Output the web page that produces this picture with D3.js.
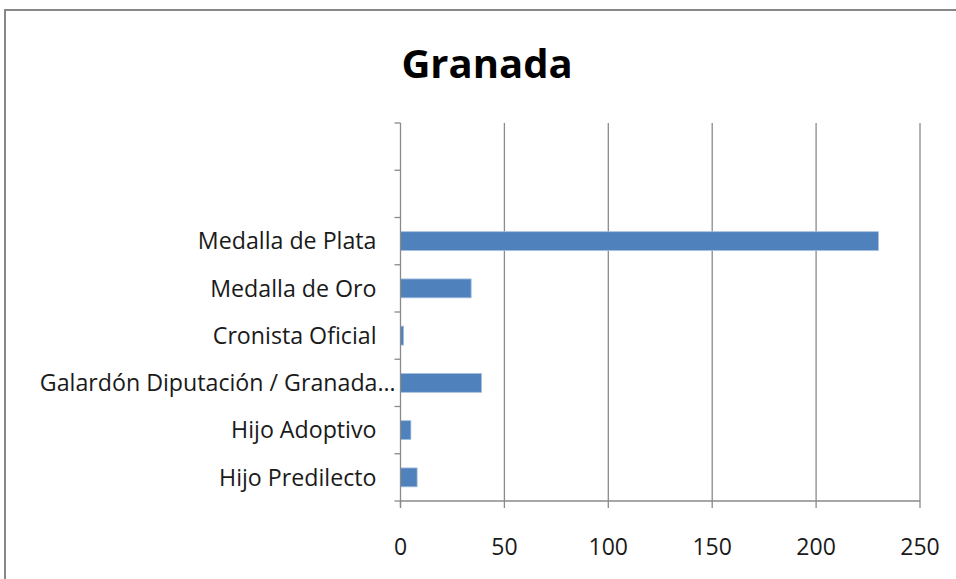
<!DOCTYPE html>
<html>
<head>
<meta charset="utf-8">
<script src="https://cdn.jsdelivr.net/npm/d3@7"></script>
<style>
  html, body { margin: 0; padding: 0; background: #fff; }
  svg { display: block; }
</style>
</head>
<body>
<svg id="chart" width="956" height="579"></svg>
<script>
// ---- data (top to bottom) ----
const title = "Granada";
const categories = ["", "", "Medalla de Plata", "Medalla de Oro", "Cronista Oficial",
  "Galardón Diputación / Granada…", "Hijo Adoptivo", "Hijo Predilecto"];
const values = [null, null, 230, 34, 1.5, 39, 5, 8];
const xTicks = [0, 50, 100, 150, 200, 250];

const svg = d3.select("#chart");
const W = 956, H = 579;
const m = { left: 400.5, right: 920, top: 123, bottom: 501 };

// frame
svg.append("path")
  .attr("d", `M5,${H + 5} L5,10 L${W + 5},10`)
  .attr("fill", "none").attr("stroke", "#878787").attr("stroke-width", 2);

// title
svg.append("text")
  .attr("x", 487).attr("y", 78)
  .attr("text-anchor", "middle")
  .attr("font-family", "'Open Sans', sans-serif")
  .attr("font-weight", "bold").attr("font-size", 40)
  .attr("fill", "#000")
  .text(title);

const x = d3.scaleLinear().domain([0, 250]).range([m.left, m.right]);
const y = d3.scaleBand().domain(d3.range(categories.length)).range([m.top, m.bottom])
  .paddingInner(0.6).paddingOuter(0.3);
const yEdges = d3.scaleLinear().domain([0, categories.length]).range([m.top, m.bottom]);

// vertical gridlines
svg.append("g").selectAll("line").data(xTicks.filter(d => d > 0)).join("line")
  .attr("x1", d => x(d)).attr("x2", d => x(d))
  .attr("y1", m.top).attr("y2", m.bottom)
  .attr("stroke", "#8a8a8a").attr("stroke-width", 1.3);

// bars
svg.append("g").selectAll("rect")
  .data(values.map((v, i) => ({ v, i })).filter(d => d.v != null)).join("rect")
  .attr("x", x(0)).attr("y", d => y(d.i))
  .attr("width", d => x(d.v) - x(0))
  .attr("height", y.bandwidth())
  .attr("fill", "#4f81bd").attr("stroke", "#a7c0e0").attr("stroke-width", 0.8);

// y axis line and ticks
const ya = svg.append("g");
ya.append("line").attr("x1", x(0)).attr("x2", x(0)).attr("y1", m.top).attr("y2", m.bottom + 6)
  .attr("stroke", "#8a8a8a").attr("stroke-width", 1.3);
ya.selectAll("line.t").data(d3.range(categories.length + 1)).join("line").attr("class", "t")
  .attr("x1", x(0) - 6).attr("x2", x(0))
  .attr("y1", d => yEdges(d)).attr("y2", d => yEdges(d))
  .attr("stroke", "#8a8a8a").attr("stroke-width", 1.3);
ya.selectAll("text").data(categories.map((c, i) => ({ c, i })).filter(d => d.c)).join("text")
  .attr("x", d => d.c.endsWith("…") ? x(0) - 5 : x(0) - 24)
  .attr("y", d => y(d.i) + y.bandwidth() / 2)
  .attr("dy", "0.36em")
  .attr("text-anchor", "end")
  .attr("font-family", "'Open Sans', sans-serif").attr("font-size", 23.2)
  .attr("fill", "#1a1a1a")
  .text(d => d.c);

// x axis
const xa = svg.append("g");
xa.append("line").attr("x1", x(0)).attr("x2", x(250)).attr("y1", m.bottom).attr("y2", m.bottom)
  .attr("stroke", "#8a8a8a").attr("stroke-width", 1.3);
xa.selectAll("line.t").data(xTicks).join("line").attr("class", "t")
  .attr("x1", d => x(d)).attr("x2", d => x(d)).attr("y1", m.bottom).attr("y2", m.bottom + 7)
  .attr("stroke", "#8a8a8a").attr("stroke-width", 1.3);
xa.selectAll("text").data(xTicks).join("text")
  .attr("x", d => x(d)).attr("y", 555)
  .attr("text-anchor", "middle")
  .attr("font-family", "'Open Sans', sans-serif").attr("font-size", 23)
  .attr("fill", "#1a1a1a")
  .text(d => d);
</script>
</body>
</html>
